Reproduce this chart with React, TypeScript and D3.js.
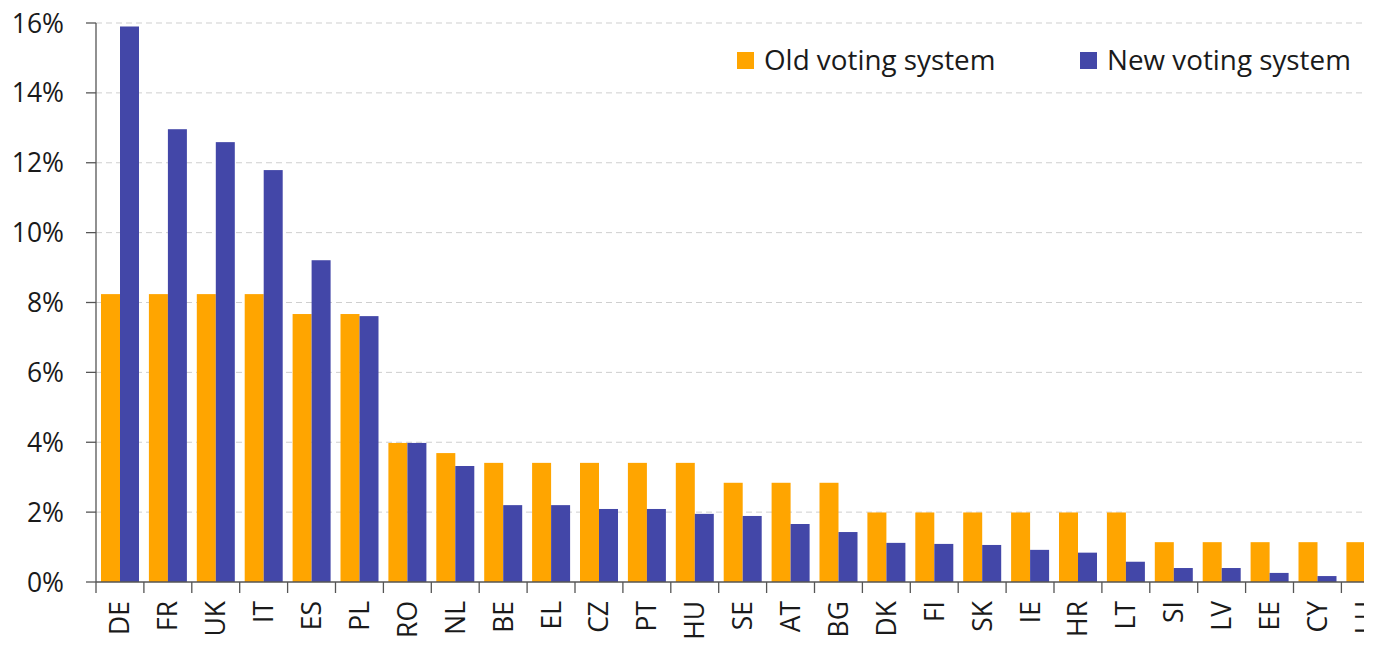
import React from "react";
import * as d3 from "d3";

const categories = ["DE","FR","UK","IT","ES","PL","RO","NL","BE","EL","CZ","PT","HU","SE","AT","BG","DK","FI","SK","IE","HR","LT","SI","LV","EE","CY","LU"];
const oldVoting = [8.24,8.24,8.24,8.24,7.67,7.67,3.98,3.69,3.41,3.41,3.41,3.41,3.41,2.84,2.84,2.84,1.99,1.99,1.99,1.99,1.99,1.99,1.14,1.14,1.14,1.14,1.14];
const newVoting = [15.9,12.96,12.59,11.79,9.21,7.61,3.98,3.32,2.2,2.2,2.09,2.09,1.95,1.89,1.66,1.43,1.12,1.09,1.06,0.92,0.84,0.58,0.4,0.4,0.26,0.17,0.11];
const yTicks = [0,2,4,6,8,10,12,14,16];
const seriesNames = ["Old voting system","New voting system"];
const colors = ["#FFA500","#4347A8"];

export default function App() {
  const W = 1376, H = 649;
  const left = 96, bandW = 47.9;
  const x = d3.scaleBand<string>().domain(categories).range([left, left + bandW * categories.length]).paddingInner(0).paddingOuter(0);
  const inner = d3.scaleBand<string>().domain(["old","new"]).range([0, 38]);
  const y = d3.scaleLinear().domain([0,16]).range([582, 23]);
  const font = "'Open Sans', sans-serif";
  const clipW = 1364;
  return (
    <svg width={W} height={H} style={{position:"absolute", left:0, top:0, background:"#fff"}} fontFamily={font}>
      <defs>
        <clipPath id="clip"><rect x={0} y={0} width={clipW} height={H} /></clipPath>
      </defs>
      <rect x={0} y={0} width={W} height={H} fill="#fff" />
      <g clipPath="url(#clip)">
        {yTicks.map(t => (
          <g key={t}>
            {t > 0 && <line x1={left} x2={W} y1={y(t)} y2={y(t)} stroke="#cfcfcf" strokeWidth={1} strokeDasharray="6,4" />}
            <line x1={86} x2={left} y1={y(t)} y2={y(t)} stroke="#555" strokeWidth={1.3} />
            <text x={64} y={y(t)} dy="0.36em" textAnchor="end" fontSize={26.5} fill="#1a1a1a">{t}%</text>
          </g>
        ))}
        {categories.map((c, i) => {
          const bx = x(c)! + 5;
          return (
            <g key={c}>
              <rect x={bx + inner("old")!} y={y(oldVoting[i])} width={inner.bandwidth()} height={y(0) - y(oldVoting[i])} fill={colors[0]} />
              <rect x={bx + inner("new")!} y={y(newVoting[i])} width={inner.bandwidth()} height={y(0) - y(newVoting[i])} fill={colors[1]} />
              <line x1={x(c)!} x2={x(c)!} y1={582} y2={593} stroke="#555" strokeWidth={1.3} />
              <text transform={`translate(${x(c)! + bandW / 2},${601}) rotate(-90)`} dy="0.36em" textAnchor="end" fontSize={26.5} fill="#1a1a1a">{c}</text>
            </g>
          );
        })}
        <line x1={left} x2={W} y1={582} y2={582} stroke="#555" strokeWidth={1.3} />
        <line x1={left} x2={left} y1={23} y2={582} stroke="#555" strokeWidth={1.3} />
      </g>
      <g>
        <rect x={737} y={52} width={17} height={17} fill={colors[0]} />
        <text x={764} y={70} fontSize={27.8} fill="#1a1a1a">{seriesNames[0]}</text>
        <rect x={1080} y={52} width={17} height={17} fill={colors[1]} />
        <text x={1107} y={70} fontSize={27.8} fill="#1a1a1a">{seriesNames[1]}</text>
      </g>
    </svg>
  );
}
